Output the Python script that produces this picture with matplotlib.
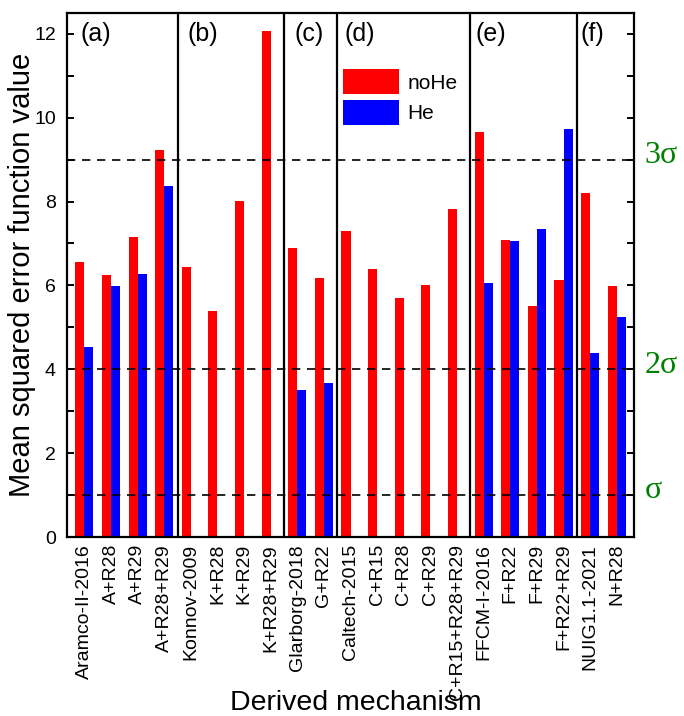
import matplotlib
matplotlib.use("Agg")
import matplotlib.pyplot as plt
import numpy as np
from matplotlib.ticker import MultipleLocator

plt.rcParams['font.family'] = ['Liberation Sans', 'DejaVu Sans']

mechanisms = [
    "Aramco-II-2016", "A+R28", "A+R29", "A+R28+R29",
    "Konnov-2009", "K+R28", "K+R29", "K+R28+R29",
    "Glarborg-2018", "G+R22",
    "Caltech-2015", "C+R15", "C+R28", "C+R29", "C+R15+R28+R29",
    "FFCM-I-2016", "F+R22", "F+R29", "F+R22+R29",
    "NUIG1.1-2021", "N+R28",
]
no_he = [6.55, 6.25, 7.15, 9.22,
         6.44, 5.38, 8.01, 12.07,
         6.90, 6.17,
         7.30, 6.39, 5.69, 6.00, 7.82,
         9.67, 7.09, 5.51, 6.13,
         8.20, 5.99]
with_he = [4.52, 5.99, 6.27, 8.38,
           np.nan, np.nan, np.nan, np.nan,
           3.50, 3.67,
           np.nan, np.nan, np.nan, np.nan, np.nan,
           6.06, 7.06, 7.34, 9.74,
           4.38, 5.25]
group_sizes = [4, 4, 2, 5, 4, 2]
group_tags = ["(a)", "(b)", "(c)", "(d)", "(e)", "(f)"]
sigma_levels = [1, 4, 9]
sigma_tags = ["σ", "2σ", "3σ"]

fig = plt.figure(figsize=(6.84, 7.16), dpi=100)
ax = fig.add_axes([0.098, 0.25, 0.829, 0.732])

x = np.arange(len(mechanisms))
w = 0.34
ax.bar(x - w / 2, no_he, width=w, color="#ff0000", label="noHe", zorder=2)
ax.bar(x + w / 2, with_he, width=w, color="#0000ff", label="He", zorder=2)

ax.set_xlim(-0.65, len(mechanisms) - 0.35)
ax.set_ylim(0, 12.5)

# dashed sigma thresholds with labels outside the right edge
for lvl, tag in zip(sigma_levels, sigma_tags):
    ax.axhline(lvl, color="black", lw=1.2, ls=(0, (5, 4)), zorder=3)
    ax.text(1.018, lvl + 0.1, tag, transform=ax.get_yaxis_transform(),
            color="#008000", fontsize=23, va="center", ha="left",
            family=["Liberation Serif", "DejaVu Serif"])

# group separators and panel tags
bounds = np.cumsum(group_sizes)[:-1] - 0.5
for b in bounds:
    ax.axvline(b, color="black", lw=1.6, zorder=3)
starts = np.concatenate([[-0.65], bounds])
tag_offsets = [0.49, 0.38, 0.38, 0.26, 0.19, 0.15]
for s, off, tag in zip(starts, tag_offsets, group_tags):
    ax.text(s + off, 12.0, tag, fontsize=18, va="center", ha="left", zorder=4)

for sp in ax.spines.values():
    sp.set_linewidth(1.6)

ax.set_xticks(x)
ax.set_xticklabels(mechanisms, rotation=90, fontsize=14)
ax.tick_params(axis="x", length=0, pad=5)
ax.yaxis.set_major_locator(MultipleLocator(2))
ax.yaxis.set_minor_locator(MultipleLocator(1))
ax.tick_params(axis="y", which="both", direction="in", right=True,
               length=5, width=1.4, labelsize=14, pad=8)

ax.set_ylabel("Mean squared error function value", fontsize=21)
ax.yaxis.set_label_coords(-0.055, 0.5)
ax.set_xlabel("Derived mechanism", fontsize=20.5)
ax.xaxis.label.set_va("baseline")
ax.xaxis.set_label_coords(0.51, -0.331)

leg = ax.legend(loc="upper left", bbox_to_anchor=(0.486, 0.893),
                frameon=False, fontsize=15, handlelength=2.7,
                handleheight=1.5, labelspacing=0.25, handletextpad=0.4,
                borderpad=0, borderaxespad=0)

fig.savefig("out.png", dpi=100)
